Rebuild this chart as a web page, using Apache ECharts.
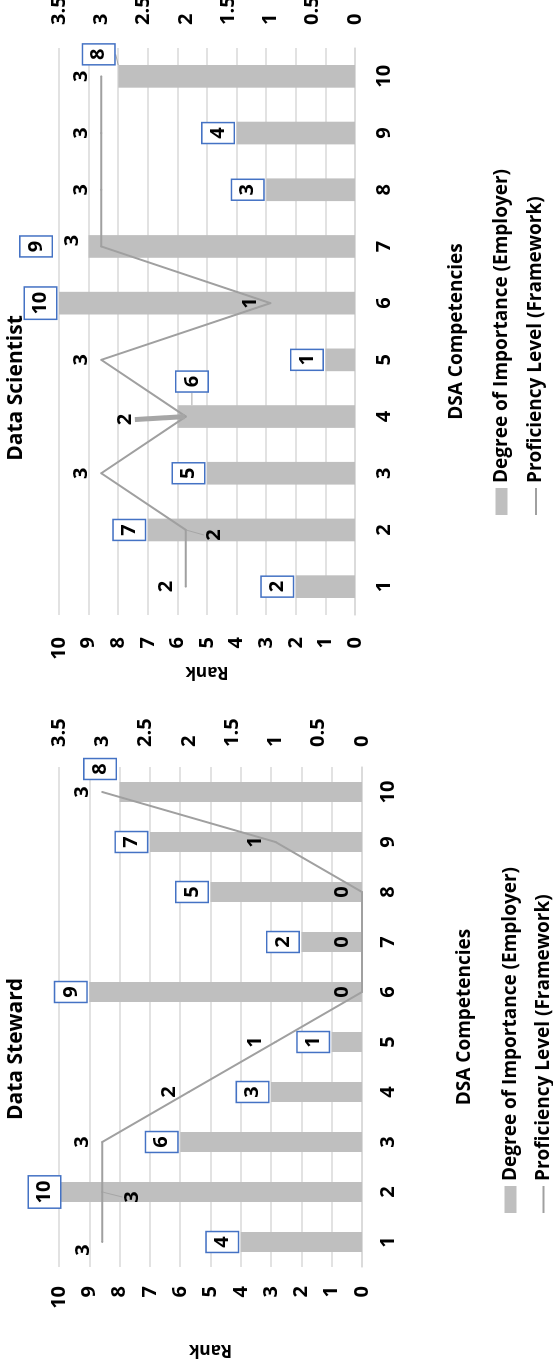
<!DOCTYPE html>
<html>
<head>
<meta charset="utf-8">
<script src="https://cdn.jsdelivr.net/npm/echarts@6/dist/echarts.min.js"></script>
<style>
  html, body { margin: 0; padding: 0; background: #fff; width: 553px; height: 1366px; overflow: hidden; }
  /* the two charts are laid out landscape and turned a quarter turn to fit the portrait page */
  #stage { position: absolute; left: 0; top: 0; width: 1366px; height: 553px;
           transform-origin: 0 0; transform: translate(0, 1366px) rotate(-90deg); }
</style>
</head>
<body>
<div id="stage"></div>
<script>
// ---- data ----
const competencies = ['1', '2', '3', '4', '5', '6', '7', '8', '9', '10'];
const stewardImportance = [4, 10, 6, 3, 1, 9, 2, 5, 7, 8];
const stewardProficiency = [3, 3, 3, 2, 1, 0, 0, 0, 1, 3];
const scientistImportance = [2, 7, 5, 6, 1, 10, 9, 3, 4, 8];
const scientistProficiency = [2, 2, 3, 2, 3, 1, 3, 3, 3, 3];
const importanceName = 'Degree of Importance (Employer)';
const proficiencyName = 'Proficiency Level (Framework)';

// ---- styling ----
const FONT = "'Open Sans', sans-serif";
const BLACK = '#000000';
const BAR_GRAY = '#bfbfbf';
const LINE_GRAY = '#a0a0a0';
const GRID_GRAY = '#d9d9d9';
const BOX_BLUE = '#4472c4';

const guideStyles = {
  thin: { width: 1, color: '#a6a6a6' },
  thick: { width: 5, color: '#a6a6a6' }
};

// hand-placed labels: pixel nudges and optional leader lines
const stewardBarTweaks = { 1: { dy: 4 }, 9: { dx: 23, dy: -1 } };
const stewardLineTweaks = { 0: { dx: -8, dy: 1 }, 1: { dx: -5, dy: 50, guide: 'thin' } };
const scientistBarTweaks = { 3: { dx: 35, dy: 33, guide: 'thin' }, 6: { dy: -34 }, 9: { dx: 22, dy: -1, guide: 'thin' } };
const scientistLineTweaks = { 1: { dx: -5, dy: 48, guide: 'thin' }, 3: { dx: -3, dy: -41, guide: 'thick' }, 6: { dx: 6, dy: -9 } };

function withGuides(values, tweaks) {
  return values.map((v, i) => {
    const t = tweaks[i];
    if (!t || !t.guide) return v;
    return { value: v, labelLine: { show: true, lineStyle: guideStyles[t.guide] } };
  });
}
function layoutFrom(tweaks) {
  return p => {
    const t = tweaks[p.dataIndex];
    return t ? { dx: t.dx || 0, dy: t.dy || 0 } : {};
  };
}

const boldText = { fontFamily: FONT, fontWeight: 'bold', color: BLACK };

function categoryAxis(gridIndex, labelMargin, nameGap) {
  return {
    gridIndex, type: 'category', data: competencies, boundaryGap: true,
    axisTick: { show: false },
    axisLine: { show: true, lineStyle: { color: GRID_GRAY, width: 1.5 } },
    axisLabel: Object.assign({ fontSize: 20, margin: labelMargin, interval: 0 }, boldText),
    name: 'DSA Competencies', nameLocation: 'middle', nameGap, nameMoveOverlap: false,
    nameTextStyle: Object.assign({ fontSize: 19 }, boldText)
  };
}
function rankAxis(gridIndex, labelMargin, nameGap) {
  return {
    gridIndex, type: 'value', position: 'left', min: 0, max: 10, interval: 1,
    axisLine: { show: false }, axisTick: { show: false },
    axisLabel: Object.assign({ fontSize: 20, margin: labelMargin }, boldText),
    splitLine: { show: true, lineStyle: { color: GRID_GRAY, width: 1.5 } },
    name: 'Rank', nameLocation: 'middle', nameRotate: 90, nameGap, nameMoveOverlap: false,
    nameTextStyle: Object.assign({ fontSize: 17 }, boldText)
  };
}
function levelAxis(gridIndex, labelMargin) {
  return {
    gridIndex, type: 'value', position: 'right', min: 0, max: 3.5, interval: 0.5,
    axisLine: { show: false }, axisTick: { show: false },
    axisLabel: Object.assign({ fontSize: 20, margin: labelMargin }, boldText),
    splitLine: { show: false }
  };
}
function importanceSeries(axisIndex, yIndex, values, tweaks) {
  return {
    name: importanceName, type: 'bar', xAxisIndex: axisIndex, yAxisIndex: yIndex,
    data: withGuides(values, tweaks), barWidth: '40%',
    itemStyle: { color: BAR_GRAY },
    label: Object.assign({
      show: true, position: 'top', distance: 3, fontSize: 20, lineHeight: 20,
      backgroundColor: '#ffffff', borderColor: BOX_BLUE, borderWidth: 1.5, padding: [5.5, 4, 5.5, 4]
    }, boldText),
    labelLayout: layoutFrom(tweaks),
    emphasis: { disabled: true }
  };
}
function proficiencySeries(axisIndex, yIndex, values, tweaks) {
  return {
    name: proficiencyName, type: 'line', xAxisIndex: axisIndex, yAxisIndex: yIndex,
    data: withGuides(values, tweaks), color: LINE_GRAY,
    symbol: 'circle', symbolSize: 2, showSymbol: true, showAllSymbol: true,
    itemStyle: { color: LINE_GRAY },
    lineStyle: { color: LINE_GRAY, width: 2 },
    label: Object.assign({ show: true, position: 'top', distance: 9, fontSize: 20 }, boldText),
    labelLayout: layoutFrom(tweaks),
    emphasis: { disabled: true }, z: 3
  };
}
function legendAt(left, top, gap) {
  return {
    left, top, orient: 'vertical', itemWidth: 27, itemHeight: 12, itemGap: gap, padding: 0,
    selectedMode: false,
    textStyle: Object.assign({ fontSize: 19 }, boldText),
    data: [
      { name: importanceName, icon: 'rect', itemStyle: { color: BAR_GRAY } },
      { name: proficiencyName, icon: 'path://M0,0H100V7.4H0Z', itemStyle: { color: LINE_GRAY } }
    ]
  };
}

const chart = echarts.init(document.getElementById('stage'), null, { width: 1366, height: 553 });
chart.setOption({
  animation: false,
  backgroundColor: '#ffffff',
  textStyle: { fontFamily: FONT },
  title: [
    { text: 'Data Steward', left: 317, top: 6, textAlign: 'center', padding: 0,
      textStyle: Object.assign({ fontSize: 21 }, boldText) },
    { text: 'Data Scientist', left: 978, top: 6, textAlign: 'center', padding: 0,
      textStyle: Object.assign({ fontSize: 21 }, boldText) }
  ],
  legend: [legendAt(153, 501, 14), legendAt(851, 492, 15.5)],
  grid: [
    { left: 99, top: 59, width: 500, height: 303, outerBoundsMode: 'none' },
    { left: 751, top: 59, width: 567, height: 296, outerBoundsMode: 'none' }
  ],
  xAxis: [categoryAxis(0, 16, 93), categoryAxis(1, 19, 92)],
  yAxis: [rankAxis(0, 19, 74), levelAxis(0, 20), rankAxis(1, 22, 48), levelAxis(1, 23)],
  series: [
    importanceSeries(0, 0, stewardImportance, stewardBarTweaks),
    proficiencySeries(0, 1, stewardProficiency, stewardLineTweaks),
    importanceSeries(1, 2, scientistImportance, scientistBarTweaks),
    proficiencySeries(1, 3, scientistProficiency, scientistLineTweaks)
  ]
});
</script>
</body>
</html>
